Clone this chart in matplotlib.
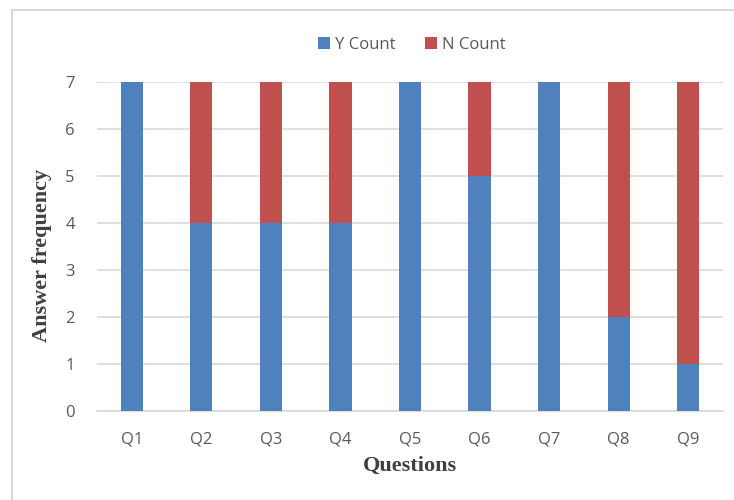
import numpy as np
import matplotlib.pyplot as plt
from matplotlib.lines import Line2D

questions = ["Q1", "Q2", "Q3", "Q4", "Q5", "Q6", "Q7", "Q8", "Q9"]
y_count = [7, 4, 4, 4, 7, 5, 7, 2, 1]
n_count = [0, 3, 3, 3, 0, 2, 0, 5, 6]

blue = "#4F81BD"
red = "#C0504D"
tick_color = "#595959"
grid_color = "#D9D9D9"

fig = plt.figure(figsize=(7.34, 5.0), dpi=100)
ax = fig.add_axes([97 / 734, 89 / 500, 626 / 734, 329 / 500])

x = np.arange(len(questions))
ax.bar(x, y_count, width=0.32, color=blue, label="Y Count", zorder=3)
ax.bar(x, n_count, width=0.32, bottom=y_count, color=red, label="N Count", zorder=3)

ax.set_xlim(-0.5, len(questions) - 0.5)
ax.set_ylim(0, 7)
ax.set_yticks(range(0, 8))
ax.set_xticks(x)
ax.set_xticklabels(questions)
ax.yaxis.grid(True, color=grid_color, linewidth=1.2, zorder=0)
ax.set_axisbelow(True)
for s in ["top", "right", "left"]:
    ax.spines[s].set_visible(False)
ax.spines["bottom"].set_color(grid_color)
ax.spines["bottom"].set_linewidth(1.2)
ax.tick_params(length=0, colors=tick_color, labelsize=12)
ax.tick_params(axis="y", pad=16)
ax.tick_params(axis="x", pad=15)
for lab in ax.get_xticklabels() + ax.get_yticklabels():
    lab.set_family("Open Sans")

fig.text(410 / 734, 1 - 466 / 500, "Questions", family="Liberation Serif",
         fontweight="bold", fontsize=16, color="#404040", ha="center", va="center")
fig.text(42 / 734, 1 - 255 / 500, "Answer frequency", family="Liberation Serif",
         fontweight="bold", fontsize=16, color="#404040", ha="center", va="center",
         rotation=90)

leg = fig.legend(loc="center", bbox_to_anchor=(412 / 734, 1 - 45 / 500), ncol=2,
                 frameon=False, handlelength=0.7, handleheight=0.7,
                 handletextpad=0.3, columnspacing=1.8,
                 prop={"family": "Open Sans", "size": 12})
for t in leg.get_texts():
    t.set_color(tick_color)

# light chart border along the left and top edges
fig.add_artist(Line2D([11.5 / 734, 11.5 / 734], [0, 1 - 10 / 500],
                      transform=fig.transFigure, color=grid_color, linewidth=1.5))
fig.add_artist(Line2D([11.5 / 734, 1], [1 - 10 / 500, 1 - 10 / 500],
                      transform=fig.transFigure, color=grid_color, linewidth=1.5))

fig.savefig("out.png", dpi=100)
